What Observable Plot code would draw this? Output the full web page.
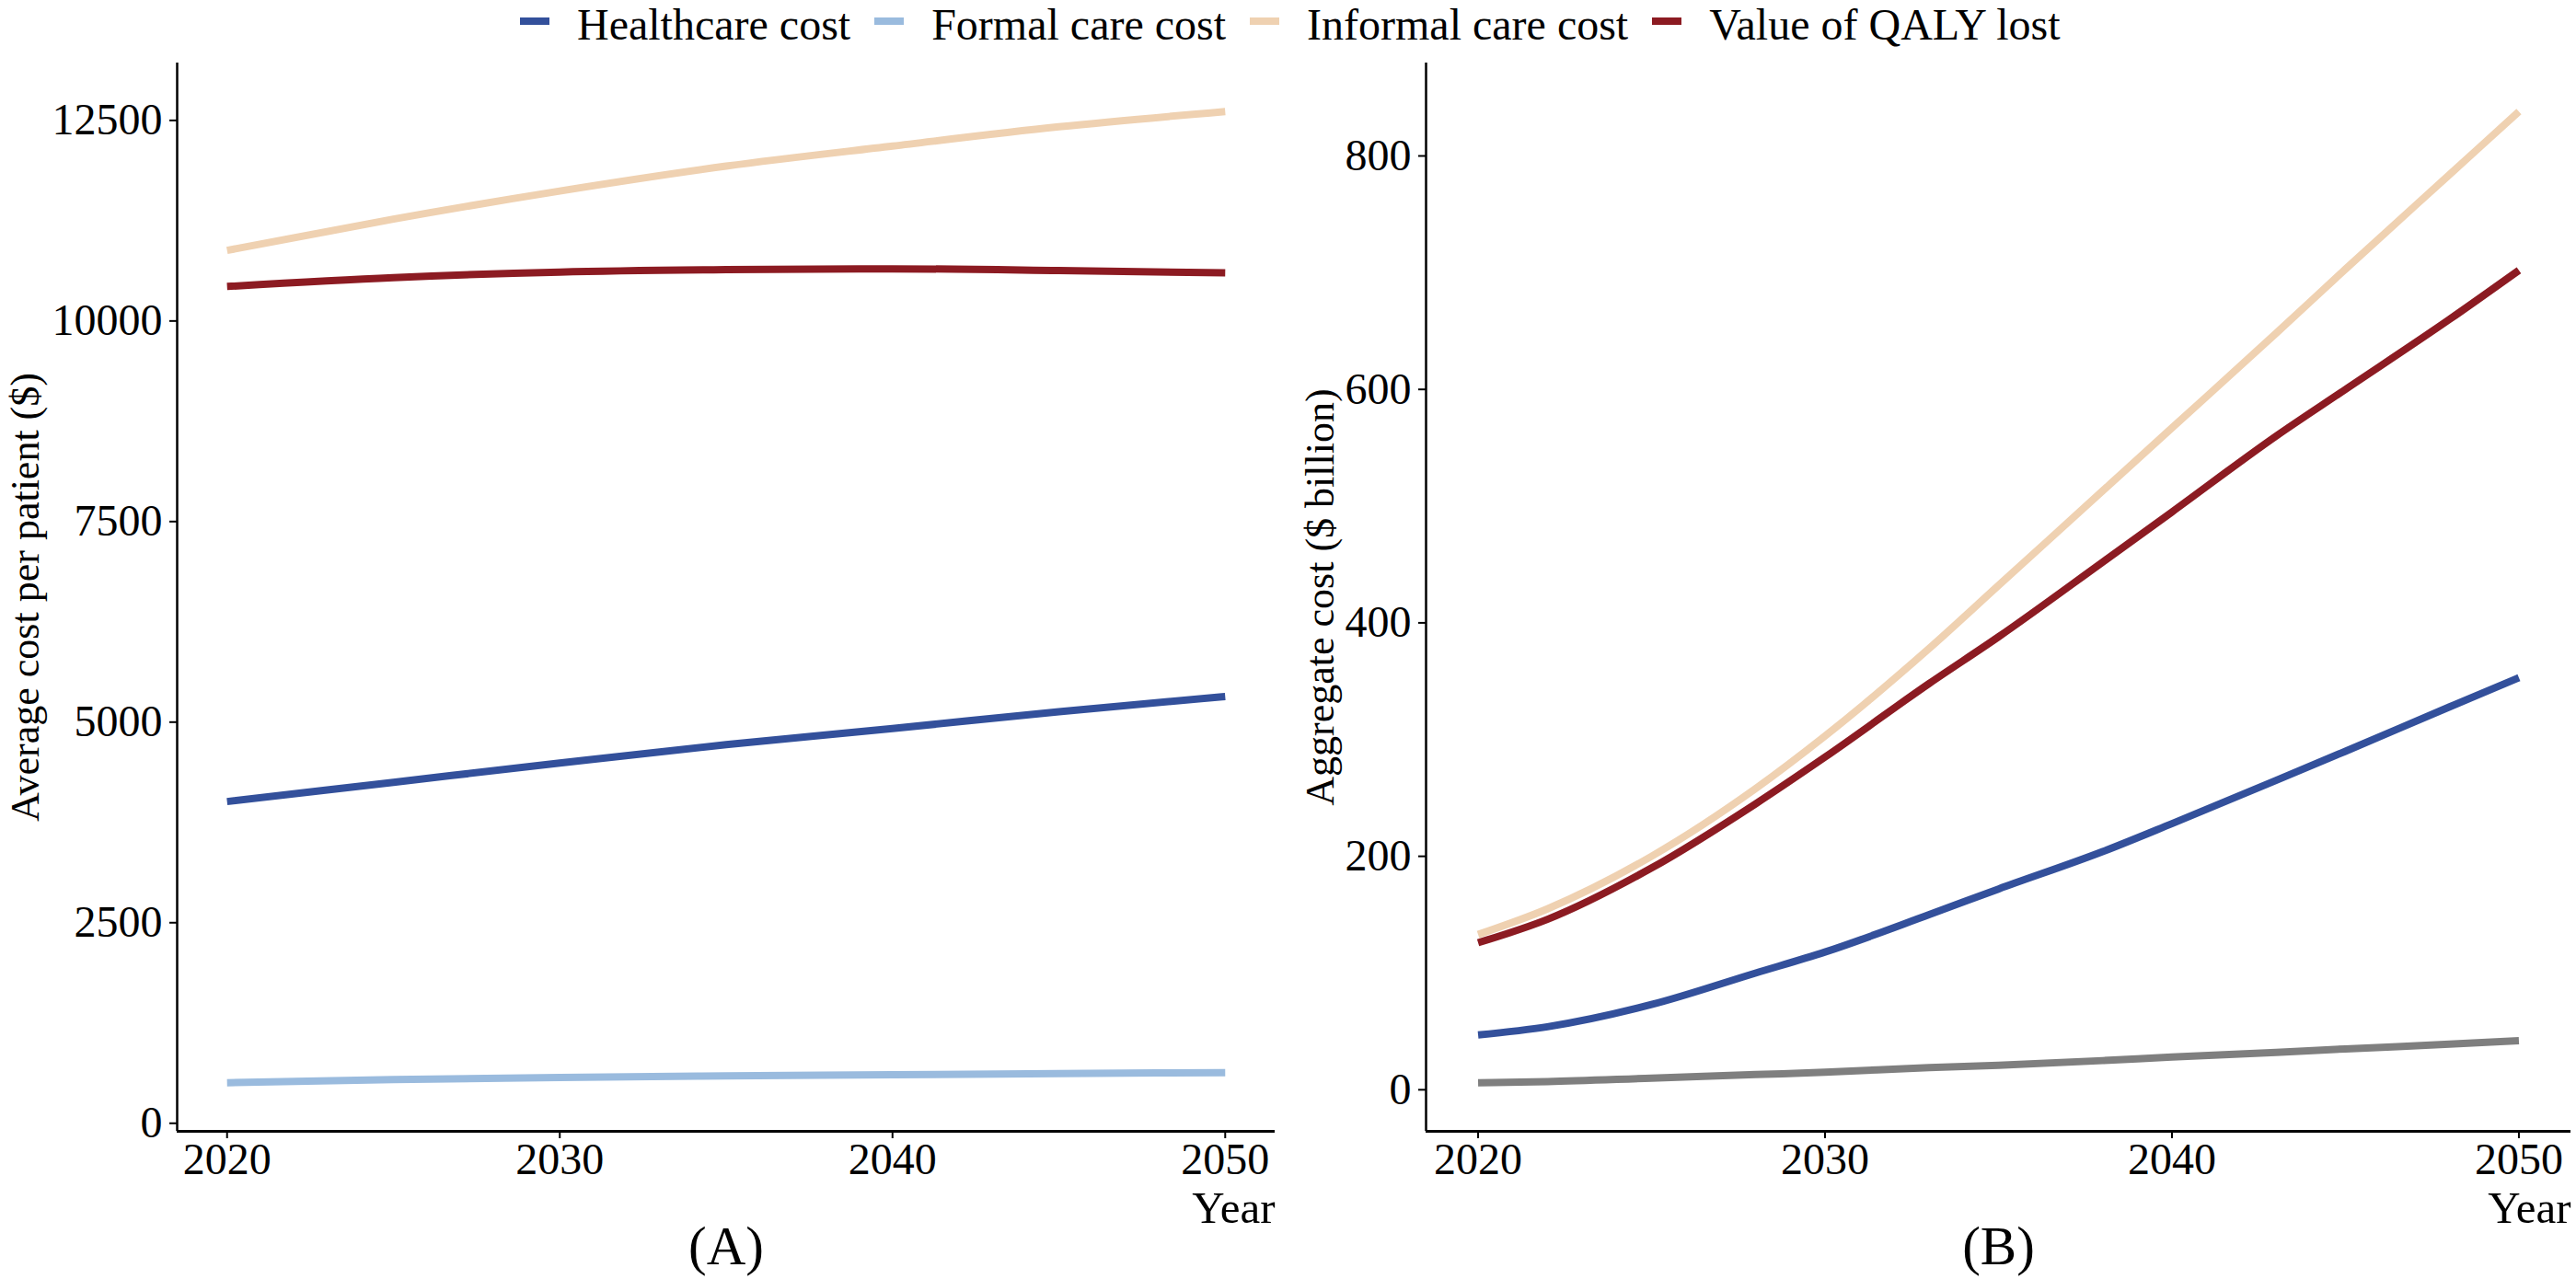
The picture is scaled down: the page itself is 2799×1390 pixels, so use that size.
<!DOCTYPE html>
<html>
<head>
<meta charset="utf-8">
<script src="https://cdn.jsdelivr.net/npm/d3@7"></script>
<script src="https://cdn.jsdelivr.net/npm/@observablehq/plot@0.6"></script>
<style>
  html, body { margin: 0; padding: 0; background: #ffffff; }
  #root { position: relative; width: 2799px; height: 1390px; background: #fff; font-family: "Liberation Serif", "Times New Roman", serif; color: #000; overflow: hidden; }
  .panel { position: absolute; top: 0; z-index: 1; }
  #legend { position: absolute; top: 0px; left: 565px; z-index: 5; display: flex; align-items: center; height: 54px; font-size: 48px; line-height: 54px; white-space: nowrap; }
  .sw { width: 32px; height: 8px; margin-right: 30px; position: relative; top: -4px; }
  .lab { margin-right: 26px; }
</style>
</head>
<body>
<div id="root">
  <div class="panel" id="pa" style="left:0px"></div>
  <div class="panel" id="pb" style="left:1400px"></div>
  <div id="legend"></div>
</div>
<script>
// ---------- data ----------
const seriesNames = ["Healthcare cost", "Formal care cost", "Informal care cost", "Value of QALY lost"];
const seriesColors = ["#33509b", "#9abbde", "#efd1b1", "#8c1b22"];
const otherColor = "#7f7f7f";

// Panel A: average cost per patient ($)
const yearsA = [2020, 2025, 2030, 2035, 2040, 2045, 2050];
const healthcareA = [4010, 4250, 4490, 4720, 4920, 5130, 5320];
const formalA     = [505, 545, 570, 590, 605, 620, 632];
const informalA   = [10880, 11270, 11620, 11930, 12180, 12420, 12610];
const qalyA       = [10430, 10540, 10610, 10640, 10650, 10630, 10600];

// Panel B: aggregate cost ($ billion)
const yearsB = [2020, 2022, 2025, 2028, 2030, 2033, 2035, 2038, 2040, 2043, 2045, 2048, 2050];
const healthcareB = [47, 54, 73, 100, 118, 150, 172, 204, 228, 265, 290, 328, 353];
const informalB   = [133, 155, 200, 258, 303, 378, 432, 513, 567, 648, 703, 784, 838];
const qalyB       = [126, 146, 190, 245, 285, 348, 388, 452, 495, 560, 600, 660, 702];
const greyB       = [6, 7, 10, 13, 15, 19, 21, 25, 28, 32, 35, 39, 42];

const xTicks = [2020, 2030, 2040, 2050];
const yTicksA = [0, 2500, 5000, 7500, 10000, 12500];
const yTicksB = [0, 200, 400, 600, 800];

// ---------- helpers ----------
function rows(years, vals, name) { return years.map((y, i) => ({year: y, value: vals[i], series: name})); }
function expand(arr, f = 0.05) {
  const [a, b] = d3.extent(arr); const p = (b - a) * f; return [a - p, b + p];
}
const xDomain = expand([2020, 2050]);

const dataA = [
  ...rows(yearsA, healthcareA, seriesNames[0]),
  ...rows(yearsA, formalA, seriesNames[1]),
  ...rows(yearsA, informalA, seriesNames[2]),
  ...rows(yearsA, qalyA, seriesNames[3])
];
const dataB = [
  ...rows(yearsB, greyB, "Other"),
  ...rows(yearsB, healthcareB, seriesNames[0]),
  ...rows(yearsB, informalB, seriesNames[2]),
  ...rows(yearsB, qalyB, seriesNames[3])
];

function panel({data, width, ml, mr, yTicks, yLabel, labelDx, tag}) {
  const yDomain = expand(data.map(d => d.value));
  return Plot.plot({
    width, height: 1390,
    marginTop: 68, marginBottom: 161, marginLeft: ml, marginRight: mr,
    style: {fontFamily: "'Liberation Serif', 'Times New Roman', serif", color: "#000", background: "transparent", overflow: "visible"},
    x: {domain: xDomain},
    y: {domain: yDomain},
    color: {domain: [...seriesNames, "Other"], range: [...seriesColors, otherColor]},
    marks: [
      Plot.axisX({ticks: xTicks, tickFormat: "d", fontSize: 48, tickSize: 8, tickPadding: 4, strokeWidth: 2, label: null}),
      Plot.axisY({ticks: yTicks, tickFormat: "d", fontSize: 48, tickSize: 8, tickPadding: 8, strokeWidth: 2, label: null}),
      Plot.line(data, {x: "year", y: "value", z: "series", stroke: "series", strokeWidth: 8, curve: "monotone-x", strokeLinecap: "butt", strokeLinejoin: "round"}),
      Plot.ruleX([xDomain[0]], {stroke: "#000", strokeWidth: 2.5}),
      Plot.ruleY([yDomain[0]], {stroke: "#000", strokeWidth: 3}),
      Plot.text([yLabel], {frameAnchor: "left", textAnchor: "middle", lineAnchor: "middle", dx: labelDx, rotate: -90, fontSize: 44, fill: "#000"}),
      Plot.text(["Year"], {frameAnchor: "bottom-right", textAnchor: "end", lineAnchor: "middle", dy: 84, fontSize: 49, fill: "#000"}),
      Plot.text([tag], {frameAnchor: "bottom", textAnchor: "middle", lineAnchor: "middle", dy: 126, fontSize: 59, fill: "#000"})
    ]
  });
}

document.getElementById("pa").append(panel({
  data: dataA, width: 1400, ml: 192, mr: 15, yTicks: yTicksA,
  yLabel: "Average cost per patient ($)", labelDx: -165, tag: "(A)"
}));
document.getElementById("pb").append(panel({
  data: dataB, width: 1399, ml: 149, mr: 6, yTicks: yTicksB,
  yLabel: "Aggregate cost ($ billion)", labelDx: -115, tag: "(B)"
}));

// legend
const leg = document.getElementById("legend");
seriesNames.forEach((n, i) => {
  const s = document.createElement("div"); s.className = "sw"; s.style.background = seriesColors[i];
  const t = document.createElement("span"); t.className = "lab"; t.textContent = n;
  leg.append(s, t);
});
</script>
</body>
</html>
